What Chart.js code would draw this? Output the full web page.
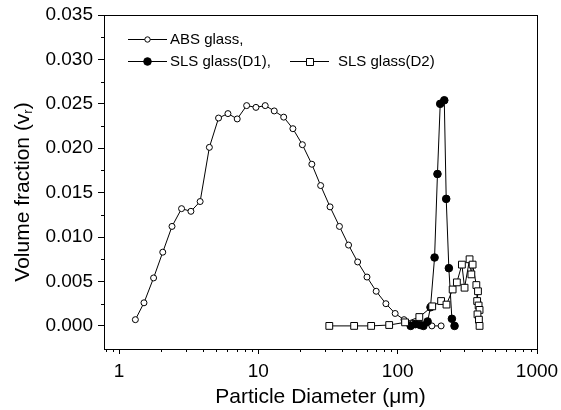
<!DOCTYPE html>
<html>
<head>
<meta charset="utf-8">
<script src="https://cdn.jsdelivr.net/npm/chart.js@4.4.0/dist/chart.umd.min.js"></script>
<style>
body { margin: 0; background: #fff; }
</style>
</head>
<body>
<canvas id="graf" width="561" height="410"></canvas>
<script>
// ABS glass (open circles)
const absX = [1.31, 1.51, 1.77, 2.06, 2.40, 2.81, 3.28, 3.82, 4.45, 5.18, 6.05, 7.05, 8.24, 9.61, 11.2, 13.0, 15.2, 17.7, 20.7, 24.2, 28.0, 32.7, 38.2, 44.4, 51.6, 60.2, 70.1, 82.3, 95.9, 111, 129, 151, 176, 205];
const absY = [0.0007, 0.0026, 0.0054, 0.0083, 0.0112, 0.0132, 0.0129, 0.0140, 0.0201, 0.0234, 0.0239, 0.0233, 0.0248, 0.0246, 0.0248, 0.0242, 0.0235, 0.0222, 0.0204, 0.0182, 0.0158, 0.0134, 0.0112, 0.0091, 0.0072, 0.0055, 0.0039, 0.0025, 0.0014, 0.0007, 0.0003, 0.0001, 0.0, 0.0];
// SLS glass (D1) (filled circles)
const d1X = [124, 134, 145, 153, 164, 172, 184, 193, 202, 216, 223, 233, 245, 256];
const d1Y = [0.0, 0.0002, 0.0001, 0.0, 0.0005, 0.0021, 0.0077, 0.0171, 0.0250, 0.0254, 0.0143, 0.0065, 0.0008, 0.0];
// SLS glass (D2) (open squares)
const d2X = [32.3, 48.7, 64.5, 86.9, 113, 143, 177, 205, 224, 248, 266, 289, 302, 328, 338, 345, 367, 377, 372, 381, 387, 374, 383, 387];
const d2Y = [0, 0, 0, 0.0001, 0.0004, 0.0010, 0.0022, 0.0028, 0.0024, 0.0041, 0.0049, 0.0069, 0.0043, 0.0075, 0.0058, 0.0069, 0.0046, 0.0039, 0.0028, 0.0023, 0.0018, 0.0013, 0.0007, 0.0];

const xTicks = [0.8, 0.9, 1, 2, 3, 4, 5, 6, 7, 8, 9, 10, 20, 30, 40, 50, 60, 70, 80, 90, 100, 200, 300, 400, 500, 600, 700, 800, 900, 1000];
const xLabels = [1, 10, 100, 1000];
const yTicks = [0, 0.0025, 0.005, 0.0075, 0.01, 0.0125, 0.015, 0.0175, 0.02, 0.0225, 0.025, 0.0275, 0.03, 0.0325, 0.035];
const yLabels = [0, 0.005, 0.01, 0.015, 0.02, 0.025, 0.03, 0.035];

function pts(xs, ys) {
    return xs.map((x, i) => ({ x: x, y: ys[i] }));
}
function isLabel(list, v) {
    return list.some(l => Math.abs(l - v) < 1e-9);
}

const FONT = 'Arial, "Liberation Sans", sans-serif';

// frame, minor ticks, y title, legend
const extras = {
    id: 'extras',
    afterDraw(chart) {
        const ctx = chart.ctx;
        const a = chart.chartArea;
        const xs = chart.scales.x, ys = chart.scales.y;
        ctx.save();
        ctx.strokeStyle = '#000';
        ctx.lineWidth = 1;
        ctx.strokeRect(Math.round(a.left) + 0.5, Math.round(a.top) + 0.5, Math.round(a.right - a.left), Math.round(a.bottom - a.top));

        // minor ticks
        ctx.beginPath();
        xTicks.forEach(v => {
            if (isLabel(xLabels, v)) return;
            const px = Math.round(xs.getPixelForValue(v)) + 0.5;
            ctx.moveTo(px, a.bottom);
            ctx.lineTo(px, a.bottom + 3);
        });
        yTicks.forEach(v => {
            if (isLabel(yLabels, v)) return;
            const py = Math.round(ys.getPixelForValue(v)) + 0.5;
            ctx.moveTo(a.left, py);
            ctx.lineTo(a.left - 3, py);
        });
        ctx.stroke();

        // y axis title with subscript
        ctx.fillStyle = '#000';
        ctx.translate(23, (a.top + a.bottom) / 2 + 10);
        ctx.rotate(-Math.PI / 2);
        ctx.textBaseline = 'middle';
        const t1 = 'Volume fraction (v';
        ctx.font = '13px ' + FONT;
        const wr = ctx.measureText('r').width;
        ctx.font = '21px ' + FONT;
        const w1 = ctx.measureText(t1).width;
        const w2 = ctx.measureText(')').width;
        let sx = -(w1 + wr + w2) / 2;
        ctx.textAlign = 'left';
        ctx.fillText(t1, sx, 0);
        ctx.font = '13px ' + FONT;
        ctx.fillText('r', sx + w1, 5);
        ctx.font = '21px ' + FONT;
        ctx.fillText(')', sx + w1 + wr, 0);
        ctx.restore();

        // legend
        ctx.save();
        ctx.strokeStyle = '#000';
        ctx.fillStyle = '#000';
        ctx.lineWidth = 1;
        ctx.font = '15px ' + FONT;
        ctx.textBaseline = 'middle';
        function sample(x0, x1, y, style, r, filled) {
            ctx.beginPath();
            ctx.moveTo(x0, y + 0.5);
            ctx.lineTo(x1, y + 0.5);
            ctx.stroke();
            const cx = (x0 + x1) / 2;
            ctx.beginPath();
            if (style === 'rect') {
                ctx.rect(Math.round(cx - r) + 0.5, Math.round(y - r) + 0.5, 2 * r, 2 * r);
            } else {
                ctx.arc(cx, y + 0.5, r, 0, Math.PI * 2);
            }
            ctx.fillStyle = filled ? '#000' : '#fff';
            ctx.fill();
            ctx.stroke();
            ctx.fillStyle = '#000';
        }
        sample(128, 167, 39, 'circle', 2.7, false);
        ctx.fillText('ABS glass,', 170, 40);
        sample(128, 167, 61, 'circle', 3.8, true);
        ctx.fillText('SLS glass(D1),', 170, 62);
        sample(290, 329, 61, 'rect', 3.5, false);
        ctx.fillText('SLS glass(D2)', 338, 62);
        ctx.restore();
    }
};

new Chart(document.getElementById('graf'), {
    type: 'scatter',
    data: {
        datasets: [{
            label: 'ABS glass,',
            data: pts(absX, absY),
            showLine: true,
            borderColor: '#000',
            borderWidth: 1,
            pointStyle: 'circle',
            pointRadius: 3,
            pointBackgroundColor: '#fff',
            pointBorderColor: '#000',
            pointBorderWidth: 1,
            order: 3
        }, {
            label: 'SLS glass(D1),',
            data: pts(d1X, d1Y),
            showLine: true,
            borderColor: '#000',
            borderWidth: 1,
            pointStyle: 'circle',
            pointRadius: 3.8,
            pointBackgroundColor: '#000',
            pointBorderColor: '#000',
            pointBorderWidth: 1,
            order: 2
        }, {
            label: 'SLS glass(D2)',
            data: pts(d2X, d2Y),
            showLine: true,
            borderColor: '#000',
            borderWidth: 1,
            pointStyle: 'rect',
            pointRadius: 4.8,
            pointBackgroundColor: '#fff',
            pointBorderColor: '#000',
            pointBorderWidth: 1,
            order: 1
        }]
    },
    options: {
        responsive: false,
        animation: false,
        layout: { padding: { left: 0, right: 24, top: 15, bottom: 0 } },
        plugins: {
            legend: { display: false },
            tooltip: { enabled: false }
        },
        scales: {
            x: {
                type: 'logarithmic',
                min: 0.78,
                max: 1000,
                afterBuildTicks: s => { s.ticks = xTicks.map(v => ({ value: v })); },
                afterFit: s => { s.height = 61; s.paddingLeft = 0; s.paddingRight = 0; },
                ticks: {
                    autoSkip: false,
                    maxRotation: 0,
                    padding: 6,
                    color: '#000',
                    font: { family: FONT, size: 19 },
                    callback: v => isLabel(xLabels, v) ? String(v) : ''
                },
                grid: {
                    drawOnChartArea: false,
                    drawTicks: true,
                    tickLength: 5,
                    tickColor: c => isLabel(xLabels, c.tick.value) ? '#000' : 'rgba(0,0,0,0)'
                },
                border: { display: true, color: '#000', width: 1 },
                title: {
                    display: true,
                    text: 'Particle Diameter (μm)',
                    color: '#000',
                    font: { family: FONT, size: 21 },
                    padding: { top: 0, bottom: 0 }
                }
            },
            y: {
                type: 'linear',
                min: -0.0026,
                max: 0.035,
                afterBuildTicks: s => { s.ticks = yTicks.map(v => ({ value: v })); },
                afterFit: s => { s.width = 104; s.paddingTop = 0; s.paddingBottom = 0; },
                ticks: {
                    autoSkip: false,
                    padding: 5,
                    color: '#000',
                    font: { family: FONT, size: 19 },
                    callback: v => isLabel(yLabels, v) ? v.toFixed(3) : ''
                },
                grid: {
                    drawOnChartArea: false,
                    drawTicks: true,
                    tickLength: 6,
                    tickColor: c => isLabel(yLabels, c.tick.value) ? '#000' : 'rgba(0,0,0,0)'
                },
                border: { display: true, color: '#000', width: 1 }
            }
        }
    },
    plugins: [extras]
});
</script>
</body>
</html>
